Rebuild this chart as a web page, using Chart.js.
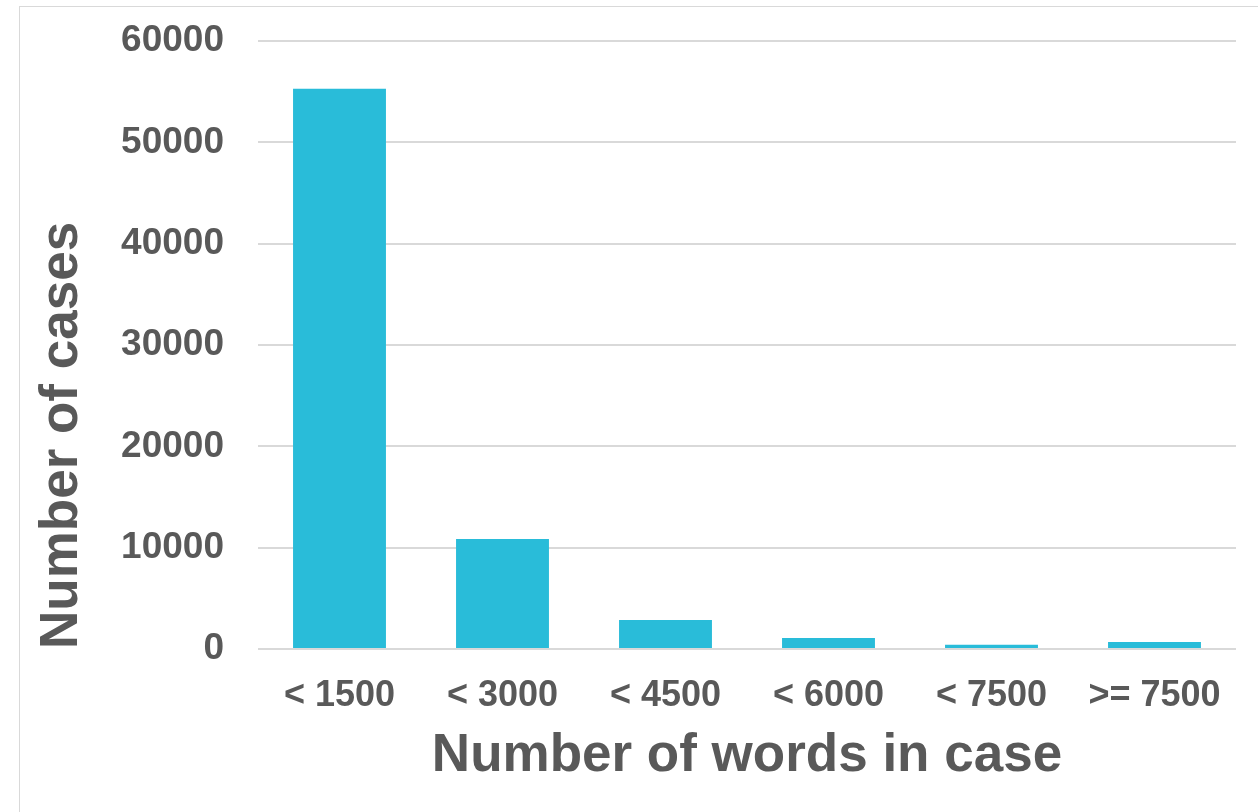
<!DOCTYPE html>
<html>
<head>
<meta charset="utf-8">
<script src="https://cdn.jsdelivr.net/npm/chart.js@4/dist/chart.umd.min.js"></script>
<style>
  html, body { margin: 0; padding: 0; background: #fff; overflow: hidden; }
  #wrap { position: relative; width: 1258px; height: 812px; }
  #frame {
    position: absolute; left: 19px; top: 6px; width: 1260px; height: 820px;
    border: 1.5px solid #d9d9d9; box-sizing: border-box;
  }
  #chart { position: absolute; left: 0; top: 0; }
</style>
</head>
<body>
<div id="wrap">
  <div id="frame"></div>
  <canvas id="chart" width="1258" height="812"></canvas>
</div>
<script>
// === data ===
const categories = ['< 1500', '< 3000', '< 4500', '< 6000', '< 7500', '>= 7500'];
const caseCounts = [55300, 10850, 2870, 1090, 420, 690];
const yTicks = [0, 10000, 20000, 30000, 40000, 50000, 60000];

const textColor = '#595959';
const gridColor = '#d9d9d9';
const barColor = '#29bcd9';
const fontFamily = '"Liberation Sans", Arial, sans-serif';

function renderCasesChart() {
  const ctx = document.getElementById('chart');
  if (!ctx) return;

  new Chart(ctx, {
    type: 'bar',
    data: {
      labels: categories,
      datasets: [{
        label: 'Number of cases',
        data: caseCounts,
        backgroundColor: barColor,
        borderWidth: 0,
        barPercentage: 0.57,
        categoryPercentage: 1.0
      }]
    },
    options: {
      responsive: false,
      animation: false,
      layout: { padding: { top: 41, right: 22, left: 0, bottom: 0 } },
      plugins: { legend: { display: false }, tooltip: { enabled: false } },
      scales: {
        x: {
          grid: { display: false, drawTicks: false },
          border: { display: false },
          ticks: {
            color: textColor,
            padding: 25,
            maxRotation: 0,
            font: { family: fontFamily, size: 36, weight: 'bold' }
          },
          title: {
            display: true,
            text: 'Number of words in case',
            color: textColor,
            padding: { top: 0, bottom: 24 },
            font: { family: fontFamily, size: 53, weight: 'bold' }
          },
          afterFit: (scale) => { scale.height = 163; }
        },
        y: {
          min: 0,
          max: 60000,
          afterBuildTicks: (scale) => { scale.ticks = yTicks.map(v => ({ value: v })); },
          grid: { color: gridColor, lineWidth: 2, drawTicks: false },
          border: { display: false },
          ticks: {
            color: textColor,
            padding: 34,
            callback: (value) => String(value),
            font: { family: fontFamily, size: 37, weight: 'bold' }
          },
          title: {
            display: true,
            text: 'Number of cases',
            align: 'start',
            color: textColor,
            padding: { top: 31, bottom: 0 },
            font: { family: fontFamily, size: 53, weight: 'bold' }
          },
          afterFit: (scale) => {
            scale.width = 258;
            scale.paddingTop = 0;
            scale.paddingBottom = 0;
          }
        }
      }
    }
  });
}

renderCasesChart();
</script>
</body>
</html>
